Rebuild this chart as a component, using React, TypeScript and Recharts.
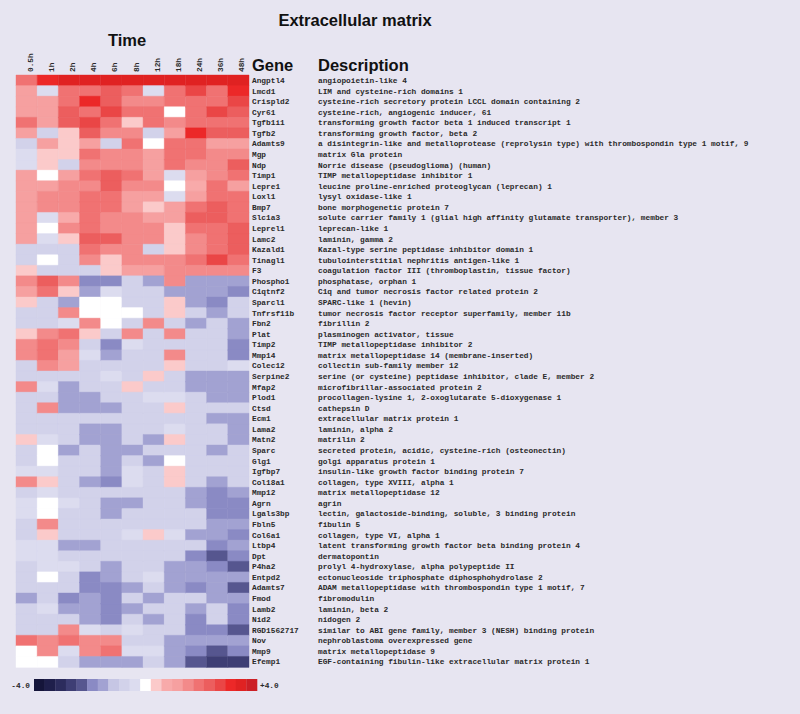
import React from 'react';
import { BarChart, Bar, Cell, XAxis, YAxis } from 'recharts';

const times = ['0.5h', '1h', '2h', '4h', '6h', '8h', '12h', '18h', '24h', '36h', '48h'];

const genes = [
  'Angptl4', 'Lmcd1', 'Crispld2', 'Cyr61', 'Tgfb1i1', 'Tgfb2', 'Adamts9', 'Mgp', 'Ndp', 'Timp1',
  'Lepre1', 'Loxl1', 'Bmp7', 'Slc1a3', 'Leprel1', 'Lamc2', 'Kazald1', 'Tinagl1', 'F3', 'Phospho1',
  'C1qtnf2', 'Sparcl1', 'Tnfrsf11b', 'Fbn2', 'Plat', 'Timp2', 'Mmp14', 'Colec12', 'Serpine2', 'Mfap2',
  'Plod1', 'Ctsd', 'Ecm1', 'Lama2', 'Matn2', 'Sparc', 'Glg1', 'Igfbp7', 'Col18a1', 'Mmp12',
  'Agrn', 'Lgals3bp', 'Fbln5', 'Col6a1', 'Ltbp4', 'Dpt', 'P4ha2', 'Entpd2', 'Adamts7', 'Fmod',
  'Lamb2', 'Nid2', 'RGD1562717', 'Nov', 'Mmp9', 'Efemp1'
];

const descriptions = [
  'angiopoietin-like 4',
  'LIM and cysteine-rich domains 1',
  'cysteine-rich secretory protein LCCL domain containing 2',
  'cysteine-rich, angiogenic inducer, 61',
  'transforming growth factor beta 1 induced transcript 1',
  'transforming growth factor, beta 2',
  'a disintegrin-like and metalloprotease (reprolysin type) with thrombospondin type 1 motif, 9',
  'matrix Gla protein',
  'Norrie disease (pseudoglioma) (human)',
  'TIMP metallopeptidase inhibitor 1',
  'leucine proline-enriched proteoglycan (leprecan) 1',
  'lysyl oxidase-like 1',
  'bone morphogenetic protein 7',
  'solute carrier family 1 (glial high affinity glutamate transporter), member 3',
  'leprecan-like 1',
  'laminin, gamma 2',
  'Kazal-type serine peptidase inhibitor domain 1',
  'tubulointerstitial nephritis antigen-like 1',
  'coagulation factor III (thromboplastin, tissue factor)',
  'phosphatase, orphan 1',
  'C1q and tumor necrosis factor related protein 2',
  'SPARC-like 1 (hevin)',
  'tumor necrosis factor receptor superfamily, member 11b',
  'fibrillin 2',
  'plasminogen activator, tissue',
  'TIMP metallopeptidase inhibitor 2',
  'matrix metallopeptidase 14 (membrane-inserted)',
  'collectin sub-family member 12',
  'serine (or cysteine) peptidase inhibitor, clade E, member 2',
  'microfibrillar-associated protein 2',
  'procollagen-lysine 1, 2-oxoglutarate 5-dioxygenase 1',
  'cathepsin D',
  'extracellular matrix protein 1',
  'laminin, alpha 2',
  'matrilin 2',
  'secreted protein, acidic, cysteine-rich (osteonectin)',
  'golgi apparatus protein 1',
  'insulin-like growth factor binding protein 7',
  'collagen, type XVIII, alpha 1',
  'matrix metallopeptidase 12',
  'agrin',
  'lectin, galactoside-binding, soluble, 3 binding protein',
  'fibulin 5',
  'collagen, type VI, alpha 1',
  'latent transforming growth factor beta binding protein 4',
  'dermatopontin',
  'prolyl 4-hydroxylase, alpha polypeptide II',
  'ectonucleoside triphosphate diphosphohydrolase 2',
  'ADAM metallopeptidase with thrombospondin type 1 motif, 7',
  'fibromodulin',
  'laminin, beta 2',
  'nidogen 2',
  'similar to ABI gene family, member 3 (NESH) binding protein',
  'nephroblastoma overexpressed gene',
  'matrix metallopeptidase 9',
  'EGF-containing fibulin-like extracellular matrix protein 1'
];

// log ratios, one row per gene, columns follow `times`
const expression = [
  [2.0, 3.2, 3.8, 3.8, 3.8, 3.8, 3.8, 3.8, 3.8, 3.8, 3.8],
  [1.2, -0.4, 2.0, 2.0, 2.4, 2.0, -0.4, 2.0, 2.8, 2.0, 3.2],
  [1.2, 1.2, 2.0, 3.2, 2.4, 1.6, 1.6, 2.0, 2.0, 2.0, 2.8],
  [1.2, 1.2, 2.4, 2.0, 2.8, 2.0, 2.0, 0, 2.0, 2.8, 2.4],
  [2.0, 1.2, 2.4, 2.8, 2.0, 0.4, 2.0, 1.6, 2.0, 2.0, 2.0],
  [1.2, -0.8, 0.4, 2.4, 1.6, 1.6, -0.8, 1.2, 3.2, 2.4, 2.4],
  [-0.8, 1.2, 0.4, 1.2, -0.8, 2.0, 0, 2.0, 2.0, 1.2, 1.2],
  [-0.4, 0.4, 0.4, 2.0, 1.6, 1.6, 1.2, 2.0, 2.0, 1.6, 1.6],
  [-0.4, 0.4, -0.8, 1.6, 1.6, 1.6, 1.2, 2.0, 1.6, 1.6, 2.4],
  [1.2, 0, 1.2, 2.0, 2.4, 2.0, 1.2, -0.4, 1.2, 1.6, 2.0],
  [1.2, 1.2, 1.6, 1.6, 2.4, 1.6, 1.6, 0, 0.8, 2.0, 1.2],
  [1.2, 1.6, 1.6, 2.0, 2.0, 1.2, 1.2, -0.4, 1.2, 2.0, 2.0],
  [1.2, 1.6, 1.6, 2.0, 2.0, 1.2, 0.4, 1.2, 2.0, 2.4, 2.0],
  [1.2, -0.4, 0.8, 2.0, 1.6, 1.6, 1.2, 1.2, 2.4, 2.4, 2.0],
  [1.2, 0, 1.6, 2.0, 1.6, 1.6, 1.6, 0.4, 2.0, 2.0, 2.4],
  [1.2, -0.4, 0.4, 2.4, 2.4, 1.6, 1.6, 0.4, 1.6, 2.0, 2.4],
  [-0.8, -0.8, -0.8, 2.0, 1.6, 1.6, -0.8, 0.4, 1.6, 2.0, 2.4],
  [-0.8, 0, -0.8, 1.6, 0.4, 1.6, 1.6, 1.6, 2.0, 2.8, 2.0],
  [0.4, -0.8, -0.8, -0.8, 0.4, 1.2, 1.2, 1.6, 1.6, 1.6, 1.6],
  [1.6, 2.4, 1.6, -2.0, -2.0, -0.8, -1.6, 1.6, -1.6, -1.6, -1.6],
  [1.2, 2.0, 0.4, -1.6, -0.4, -0.8, -0.8, -1.6, -1.6, -1.6, -2.0],
  [0.4, -0.8, -1.6, 0, 0, -0.8, -0.8, 0.4, -1.6, -2.0, -0.8],
  [-0.8, -0.8, 1.6, 0, 0, 0, -0.8, 0.4, -0.8, -1.6, -0.8],
  [-0.8, -0.8, -0.4, 1.6, 0, -0.8, 1.6, -0.8, -1.6, -0.8, -1.6],
  [0.4, 1.6, 2.0, 0.4, -0.8, 1.6, -0.8, 1.6, -0.8, -0.8, -1.6],
  [1.6, 2.0, 1.6, -0.8, -2.0, -0.4, -0.8, -0.8, -0.8, -0.8, -2.0],
  [1.6, 2.0, 1.2, -0.4, -1.6, -0.8, -0.8, 1.6, -0.8, -0.8, -2.0],
  [-0.8, 1.6, 1.2, -0.8, -0.8, -0.8, -0.8, 0.4, -0.8, -0.8, -0.4],
  [-0.8, -0.8, -0.8, -0.8, -0.4, -0.8, 0.4, -0.8, -1.6, -1.6, -1.6],
  [1.6, -0.4, -1.6, -0.8, -0.8, 0.4, -0.8, -0.8, -1.6, -1.6, -1.6],
  [-0.8, -0.8, -1.6, -1.6, -0.8, -0.8, -0.4, -0.4, -0.8, -1.6, -1.6],
  [-0.8, 1.6, -1.6, -1.6, -1.6, -0.8, -0.8, 0.4, -0.8, -0.8, -0.8],
  [-0.8, -0.8, -0.8, -0.8, -0.8, -0.8, -0.8, -0.8, -0.8, -1.6, -1.6],
  [-0.8, -0.8, -0.8, -1.6, -1.6, -0.8, -0.8, -0.4, -0.8, -0.8, -1.6],
  [0.4, -0.4, -0.8, -1.6, -1.6, -0.8, -1.6, 0.4, -0.8, -0.8, -1.6],
  [-0.8, 0, -1.6, -0.8, -1.6, -1.6, -0.8, -0.8, -0.8, -1.6, -0.8],
  [-0.8, 0, -0.8, -0.8, -1.6, -0.8, -1.6, 0, -0.8, -0.8, -0.8],
  [-0.4, -0.4, -0.8, -0.8, -1.6, -0.4, -0.8, 0.4, -0.8, -0.8, -0.8],
  [1.6, 0.4, -0.8, -1.6, -2.0, -0.4, -0.8, 0.4, -0.8, -1.6, -0.8],
  [-0.8, -0.4, -0.8, -0.8, -0.8, -0.8, -0.8, -0.8, -1.6, -2.0, -1.6],
  [-0.4, 0, -0.4, -0.8, -1.6, -1.6, -0.8, -0.8, -1.6, -2.0, -2.0],
  [-0.4, 0, -0.8, -0.8, -1.6, -0.8, -0.8, -0.8, -0.8, -2.0, -2.0],
  [-0.8, 1.6, -0.8, -0.8, -0.8, -0.8, -0.8, -0.8, -0.8, -1.6, -1.6],
  [-0.8, 0.4, -0.8, -0.8, -0.8, -0.4, 0.4, -0.4, -1.6, -1.6, -2.0],
  [-0.4, -0.4, -1.6, -1.6, -0.8, -0.8, -0.8, -0.8, -0.8, -2.0, -1.6],
  [-0.4, -0.4, -0.8, -0.8, -0.8, -0.8, -0.8, -0.8, -2.0, -2.4, -2.0],
  [-0.8, -0.4, -0.4, -0.8, -1.6, -0.8, -0.8, -1.6, -1.6, -2.0, -2.4],
  [-0.8, 0, -0.8, -2.0, -1.6, -0.8, -0.4, -1.6, -1.6, -1.6, -1.6],
  [-0.8, -0.8, -0.8, -2.0, -2.0, -1.6, -0.8, -1.6, -2.0, -1.6, -2.4],
  [-1.6, -0.8, -2.0, -1.6, -2.0, -0.8, -1.6, -0.8, -0.8, -1.6, -1.6],
  [-0.8, -0.4, -1.6, -1.6, -2.0, -1.6, -0.8, -0.8, -1.6, -0.8, -2.0],
  [-0.8, -0.8, -0.8, -1.6, -2.0, -0.8, -1.6, -0.8, -2.0, -0.8, -2.0],
  [-0.8, -0.8, 1.6, -0.4, -0.8, -0.4, -0.8, -0.8, -2.0, -2.0, -2.4],
  [2.0, 1.6, 2.0, 1.6, 1.6, -0.8, -0.8, -1.6, -1.6, -1.6, -1.6],
  [0, 1.6, -0.4, 1.6, 2.0, -0.4, -0.4, -1.6, -2.0, -2.4, -2.0],
  [0, 0, -0.8, -1.6, -1.6, -1.6, -0.8, -1.6, -2.4, -2.8, -2.8]
];

// 21 steps from -4.0 to +4.0
const palette = [
  '#15153a', '#1f1f4b', '#2c2c5d', '#3e3e74', '#56568f', '#8a8ac4', '#a2a2d2',
  '#c6c6e4', '#d2d2ea', '#dcdcef', '#ffffff', '#fbcaca', '#f8aaaa', '#f6a0a0',
  '#f38a8a', '#f07272', '#ec5e5e', '#ea4646', '#ec2828', '#e02222', '#cc1f26'
];

const colorFor = (v: number) => {
  const idx = Math.max(0, Math.min(20, Math.round(v / 0.4) + 10));
  return palette[idx];
};

const mono = '"Liberation Mono", "DejaVu Sans Mono", monospace';
const sans = '"Liberation Sans", Arial, sans-serif';
const labelSize = 7.8;

const rows = genes.map((gene, i) => {
  const row: any = { gene, idx: i };
  times.forEach((_, j) => { row[`w${j}`] = 1; });
  return row;
});

const GeneTick = ({ x, y, payload }: any) => {
  const i = payload.index;
  return (
    <g>
      <text x={x + 3} y={y} dy="0.35em" fontFamily={mono} fontSize={labelSize} fontWeight="bold" fill="#2a2a2a">
        {payload.value}
      </text>
      <text x={x + 69} y={y} dy="0.35em" fontFamily={mono} fontSize={labelSize} fontWeight="bold" fill="#2a2a2a">
        {descriptions[i]}
      </text>
    </g>
  );
};

const TimeTick = ({ x, y, payload }: any) => (
  <text
    transform={`translate(${x},${y}) rotate(-90)`}
    dy={6}
    textAnchor="start"
    fontFamily={mono}
    fontSize={labelSize}
    fontWeight="bold"
    fill="#2a2a2a"
  >
    {times[payload.index]}
  </text>
);

export default function App() {
  const legendLeft = 34;
  const legendWidth = 223;
  const cellW = legendWidth / palette.length;
  return (
    <div style={{ position: 'fixed', left: 0, top: 0, width: 800, height: 714, background: '#e7e5f1' }}>
      <div style={{ position: 'absolute', left: 0, top: 0 }}>
        <BarChart
          width={800}
          height={714}
          data={rows}
          layout="vertical"
          margin={{ top: 45, right: 0, bottom: 47, left: 16 }}
          barCategoryGap={0}
          barGap={0}
        >
          <XAxis
            type="number"
            orientation="top"
            domain={[0, times.length]}
            ticks={times.map((_, j) => j + 0.5)}
            height={30}
            axisLine={false}
            tickLine={false}
            tickSize={0}
            tickMargin={3}
            interval={0}
            tick={<TimeTick />}
          />
          <YAxis
            type="category"
            dataKey="gene"
            orientation="right"
            width={551}
            axisLine={false}
            tickLine={false}
            tickSize={0}
            tickMargin={0}
            interval={0}
            tick={<GeneTick />}
          />
          {times.map((t, j) => (
            <Bar key={t} dataKey={`w${j}`} stackId="grid" isAnimationActive={false}>
              {rows.map((r, i) => {
                const c = colorFor(expression[i][j]);
                return <Cell key={`c-${i}-${j}`} fill={c} stroke={c} strokeWidth={0.4} />;
              })}
            </Bar>
          ))}
        </BarChart>
      </div>
      <svg width={800} height={714} style={{ position: 'absolute', left: 0, top: 0, pointerEvents: 'none' }}>
        <text x={355} y={26} textAnchor="middle" fontFamily={sans} fontWeight="bold" fontSize={16.5} fill="#111">
          Extracellular matrix
        </text>
        <text x={108} y={46} fontFamily={sans} fontWeight="bold" fontSize={16.5} fill="#111">Time</text>
        <text x={252} y={71} fontFamily={sans} fontWeight="bold" fontSize={16.5} fill="#111">Gene</text>
        <text x={318} y={71} fontFamily={sans} fontWeight="bold" fontSize={16.5} fill="#111">Description</text>
        {palette.map((c, k) => (
          <rect key={c} x={legendLeft + k * cellW} y={679} width={cellW + 0.3} height={12} fill={c} />
        ))}
        <text x={30} y={685} dy="0.35em" textAnchor="end" fontFamily={mono} fontSize={labelSize} fontWeight="bold" fill="#2a2a2a">-4.0</text>
        <text x={260} y={685} dy="0.35em" fontFamily={mono} fontSize={labelSize} fontWeight="bold" fill="#2a2a2a">+4.0</text>
      </svg>
    </div>
  );
}
